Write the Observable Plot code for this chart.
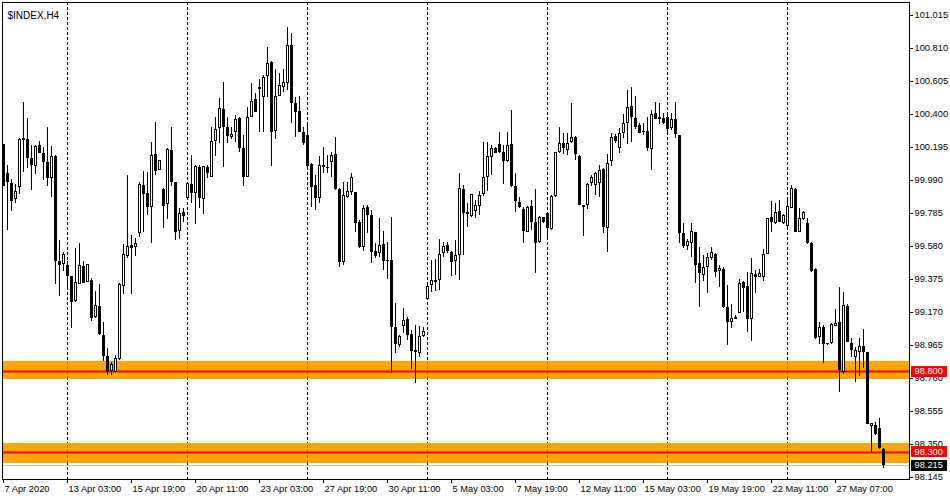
<!DOCTYPE html>
<html><head><meta charset="utf-8">
<script src="https://cdn.jsdelivr.net/npm/d3@7"></script>
<script src="https://cdn.jsdelivr.net/npm/@observablehq/plot@0.6"></script>
<style>
html,body{margin:0;padding:0;background:#fff;}
#chart svg{display:block;}
</style>
</head><body><div id="chart"></div>
<script>
const title = "$INDEX,H4";
const open = [
100.213,100.032,99.970,99.871,99.946,100.238,100.244,100.126,100.076,100.207,
100.157,100.101,100.001,100.139,99.486,99.467,99.461,99.393,99.237,99.344,
99.455,99.355,99.367,99.138,99.206,99.026,98.895,98.802,98.796,98.876,
99.330,99.517,99.585,99.573,99.660,99.958,99.908,99.821,100.151,100.051,
99.933,99.840,100.176,99.977,99.672,99.790,99.877,99.964,99.908,100.070,
99.871,100.070,100.008,100.232,100.312,100.430,100.319,100.256,100.287,100.374,
100.188,100.008,100.381,100.493,100.567,100.505,100.636,100.723,100.294,100.511,
100.567,100.592,100.828,100.468,100.418,100.287,100.269,100.089,99.958,99.877,
100.082,100.070,100.101,100.151,99.933,99.479,99.884,99.915,99.915,99.728,
99.573,99.821,99.772,99.548,99.535,99.591,99.492,99.492,99.075,98.964,
99.082,99.125,99.032,98.932,98.914,99.019,99.249,99.336,99.367,99.367,
99.535,99.585,99.542,99.486,99.523,99.933,99.790,99.765,99.797,99.827,
99.902,100.008,100.132,100.188,100.213,100.163,100.107,100.213,99.952,99.852,
99.809,99.666,99.827,99.728,99.604,99.759,99.784,99.685,99.890,100.163,
100.219,100.176,100.225,100.256,100.139,99.834,99.834,99.970,99.958,99.970,
100.057,99.691,100.107,100.263,100.188,100.281,100.343,100.449,100.374,100.331,
100.290,100.294,100.182,100.405,100.368,100.374,100.381,100.312,100.368,100.269,
99.660,99.579,99.597,99.666,99.473,99.399,99.448,99.504,99.529,99.424,
99.436,99.200,99.107,99.138,99.162,99.355,99.330,99.125,99.405,99.386,
99.386,99.529,99.759,99.722,99.797,99.722,99.703,99.815,99.933,99.666,
99.747,99.722,99.597,99.436,99.013,99.075,98.976,98.976,99.082,99.107,
98.796,99.206,98.976,98.889,98.920,98.957,98.920,98.460,98.466,98.447,
98.317];
const high = [
100.215,100.082,99.995,99.964,100.250,100.474,100.374,100.207,100.207,100.232,
100.194,100.319,100.200,100.142,99.616,99.542,99.486,99.395,99.566,99.597,
99.486,99.469,99.380,99.299,99.342,99.107,98.945,98.858,98.901,99.349,
99.591,100.020,99.647,99.629,99.977,100.045,100.039,100.225,100.350,100.115,
99.939,100.188,100.319,99.979,99.815,99.815,99.972,100.145,100.082,100.082,
100.078,100.082,100.319,100.381,100.499,100.598,100.381,100.319,100.393,100.381,
100.269,100.443,100.592,100.530,100.617,100.642,100.816,100.729,100.679,100.654,
100.679,100.940,100.903,100.505,100.511,100.319,100.350,100.095,100.020,100.139,
100.194,100.145,100.163,100.256,99.939,99.977,99.977,100.032,99.917,99.740,
99.834,99.834,99.803,99.597,99.753,99.672,99.604,99.759,99.224,99.026,
99.193,99.138,99.057,99.088,99.082,99.075,99.355,99.492,99.498,99.622,
99.604,99.604,99.548,99.616,100.032,99.958,99.846,99.904,99.865,99.921,
100.225,100.225,100.207,100.194,100.287,100.207,100.287,100.424,100.032,99.884,
99.821,99.827,99.865,99.933,99.765,99.761,99.786,99.896,100.165,100.319,
100.281,100.281,100.468,100.263,100.145,99.836,99.970,100.020,100.039,100.082,
100.063,100.151,100.281,100.275,100.312,100.399,100.548,100.567,100.511,100.343,
100.343,100.381,100.424,100.474,100.468,100.405,100.405,100.405,100.474,100.271,
99.722,99.622,99.722,99.668,99.573,99.523,99.535,99.573,99.535,99.461,
99.448,99.336,99.218,99.150,99.374,99.361,99.417,99.504,99.430,99.436,
99.560,99.755,99.859,99.846,99.865,99.778,99.865,99.958,99.939,99.815,
99.797,99.753,99.604,99.442,99.107,99.088,98.978,99.100,99.187,99.324,
99.293,99.218,99.007,98.951,99.007,99.063,98.922,98.481,98.485,98.510,
98.323];
const low = [
99.950,99.678,99.797,99.846,99.902,100.039,100.063,99.927,100.026,100.155,
99.989,99.952,99.884,99.342,99.268,99.424,99.318,99.069,99.231,99.342,
99.347,99.353,99.113,99.131,99.026,98.864,98.777,98.777,98.794,98.870,
99.280,99.504,99.280,99.517,99.635,99.666,99.772,99.597,100.020,100.049,
99.691,99.747,99.952,99.616,99.622,99.728,99.875,99.846,99.716,99.815,
99.778,100.001,100.006,100.139,100.219,100.070,100.219,100.244,100.225,100.163,
99.952,100.006,100.379,100.410,100.287,100.287,100.505,100.076,100.244,100.509,
100.536,100.548,100.343,100.256,100.285,100.207,100.070,99.821,99.803,99.846,
100.032,100.032,100.008,99.927,99.448,99.461,99.877,99.896,99.666,99.566,
99.548,99.660,99.473,99.504,99.510,99.430,99.374,98.789,98.914,98.951,
99.038,98.995,98.814,98.727,98.889,99.013,99.243,99.293,99.299,99.305,
99.510,99.535,99.393,99.399,99.367,99.523,99.697,99.759,99.753,99.772,
99.890,99.921,100.020,100.155,100.157,99.964,100.101,99.946,99.790,99.815,
99.597,99.664,99.678,99.411,99.597,99.722,99.629,99.678,99.884,100.157,
100.151,100.145,100.219,100.113,99.832,99.641,99.809,99.952,99.896,99.884,
99.660,99.542,100.076,100.219,100.157,100.250,100.213,100.225,100.306,100.279,
100.269,100.170,100.051,100.366,100.337,100.337,100.281,100.300,100.250,99.597,
99.566,99.554,99.510,99.349,99.200,99.361,99.287,99.492,99.386,99.324,
99.193,98.964,99.069,99.123,99.160,99.169,99.044,98.988,99.287,99.384,
99.361,99.527,99.666,99.716,99.726,99.716,99.697,99.813,99.664,99.664,
99.740,99.591,99.417,99.001,98.970,98.852,98.964,98.970,99.080,98.671,
98.783,98.980,98.889,98.733,98.771,98.820,98.470,98.298,98.404,98.317,
98.199];
const close = [
99.952,99.977,99.859,99.921,100.244,100.250,100.126,100.082,100.200,100.160,
100.101,100.001,100.139,99.486,99.461,99.529,99.393,99.231,99.355,99.461,
99.349,99.467,99.131,99.212,99.032,98.895,98.796,98.845,98.883,99.342,
99.529,99.579,99.566,99.597,99.964,99.902,99.821,100.145,100.045,100.113,
99.827,100.182,99.977,99.666,99.784,99.765,99.970,99.908,100.076,99.877,
100.076,100.032,100.232,100.306,100.437,100.319,100.263,100.275,100.368,100.188,
100.008,100.381,100.480,100.412,100.555,100.629,100.716,100.287,100.511,100.580,
100.598,100.828,100.468,100.412,100.287,100.219,100.076,99.946,99.877,100.082,
100.070,100.063,100.145,99.933,99.479,99.896,99.921,100.008,99.722,99.573,
99.815,99.772,99.542,99.517,99.585,99.486,99.486,99.075,98.970,99.019,
99.119,99.026,98.926,98.920,99.019,99.050,99.330,99.367,99.355,99.529,
99.579,99.548,99.479,99.523,99.939,99.784,99.778,99.902,99.834,99.896,
100.008,100.139,100.188,100.160,100.163,100.107,100.207,99.952,99.859,99.821,
99.672,99.821,99.728,99.597,99.759,99.728,99.691,99.890,100.163,100.219,
100.188,100.219,100.256,100.151,99.834,99.821,99.964,100.008,100.032,100.051,
99.697,100.095,100.256,100.232,100.281,100.343,100.443,100.381,100.319,100.281,
100.285,100.188,100.399,100.368,100.381,100.343,100.306,100.368,100.275,99.660,
99.579,99.610,99.672,99.461,99.411,99.448,99.510,99.542,99.417,99.442,
99.200,99.107,99.131,99.125,99.349,99.318,99.125,99.411,99.386,99.411,
99.529,99.753,99.728,99.790,99.728,99.772,99.827,99.939,99.666,99.753,
99.790,99.597,99.424,99.007,99.075,98.970,98.970,99.094,99.100,98.808,
99.212,98.982,98.932,98.932,98.957,98.920,98.472,98.479,98.410,98.323,
98.215];

const tickIdx = [0,16,32,48,64,80,96,112,128,144,160,176,192,208];
const tickLabels = ["7 Apr 2020","13 Apr 03:00","15 Apr 19:00","20 Apr 11:00","23 Apr 03:00",
  "27 Apr 19:00","30 Apr 11:00","5 May 03:00","7 May 19:00","12 May 11:00","15 May 03:00",
  "19 May 19:00","22 May 11:00","27 May 07:00"];
const gridIdx = [16,46,76,106,136,166,196];
const yTicks = [101.015,100.810,100.605,100.400,100.195,99.990,99.785,99.580,99.375,99.170,98.965,98.760,98.555,98.350,98.145];
const levels = [98.800, 98.300];
const bandLo = [98.754, 98.232];
const bandHi = [98.864, 98.356];
const lastPrice = 98.215;

const xDom = [-0.25, 226.5];
const yDom = [98.1304, 101.0956];
const px = (yDom[1] - yDom[0]) / 477;

const data = close.map((c, i) => {
  const o = open[i];
  let lo = Math.min(o, c), hi = Math.max(o, c);
  if (hi - lo < px) { const m = (hi + lo) / 2; lo = m - px / 2; hi = m + px / 2; }
  return {i, o, h: high[i], l: low[i], c, lo, hi, bull: c > o};
});
const bulls = data.filter(d => d.bull && (d.hi - d.lo) > 2.2 * px);
const bands = bandLo.map((lo, k) => ({lo, hi: bandHi[k]}));
const gridOnBands = gridIdx.flatMap(g => bands.map(b => ({g, lo: b.lo, hi: b.hi})));
const ticks = tickIdx.map((i, k) => ({i, label: tickLabels[k]}));
const tags = [
  {v: levels[0], bg: "#ff0000"},
  {v: levels[1], bg: "#ff0000"},
  {v: lastPrice, bg: "#000000"}
];

const chart = Plot.plot({
  width: 950, height: 500,
  marginLeft: 2, marginRight: 41, marginTop: 2, marginBottom: 21,
  x: {domain: xDom, axis: null, round: true},
  y: {domain: yDom, axis: null, round: true},
  color: {type: "identity"},
  style: {fontFamily: "'Liberation Sans', Arial, sans-serif", fontSize: "9.3px", background: "white", color: "black"},
  marks: [
    Plot.ruleX(gridIdx, {x: d => d, stroke: "black", strokeDasharray: "3,2"}),
    Plot.rect(bands, {x1: () => xDom[0], x2: () => xDom[1], y1: "lo", y2: "hi", fill: "#FFA500"}),
    Plot.ruleX(gridOnBands, {x: "g", y1: "lo", y2: "hi", stroke: "#4a78c8", strokeDasharray: "3,2"}),
    Plot.ruleY(levels, {y: d => d, stroke: "#ff0000", strokeWidth: 2}),
    Plot.ruleY([lastPrice], {y: d => d, stroke: "#c0c0c0"}),
    Plot.ruleX(data, {x: "i", y1: "l", y2: "h", stroke: "black"}),
    Plot.rect(data, {x1: d => d.i - 0.25, x2: d => d.i + 0.5, y1: "lo", y2: "hi", fill: "black"}),
    Plot.rect(bulls, {x1: d => d.i - 0.25, x2: d => d.i + 0.5, y1: "lo", y2: "hi", fill: "white", inset: 1}),
    Plot.frame({stroke: "black"}),
    Plot.ruleY(yTicks, {y: d => d, x1: () => xDom[1], x2: () => xDom[1] + 1, stroke: "black"}),
    Plot.text(yTicks, {x: () => xDom[1], y: d => d, text: d => d.toFixed(3), textAnchor: "start", dx: 5, fill: "black"}),
    Plot.ruleX(ticks, {x: "i", y1: () => yDom[0], y2: () => yDom[0] - 4 * px, stroke: "black"}),
    Plot.text(ticks, {x: "i", y: () => yDom[0], text: "label", textAnchor: "start", dx: 1, dy: 10, fill: "black"}),
    Plot.rect(tags, {x1: () => xDom[1] + 0.4, x2: () => xDom[1] + 9.4, y1: d => d.v - 5.5 * px, y2: d => d.v + 5.5 * px, fill: "bg"}),
    Plot.text(tags, {x: () => xDom[1], y: "v", text: d => d.v.toFixed(3), textAnchor: "start", dx: 5, fill: "white"}),
    Plot.text([title], {frameAnchor: "top-left", text: d => d, textAnchor: "start", dx: 5, dy: 9, fontSize: 10, fill: "black"})
  ]
});
document.getElementById("chart").appendChild(chart);
</script>
</body></html>
